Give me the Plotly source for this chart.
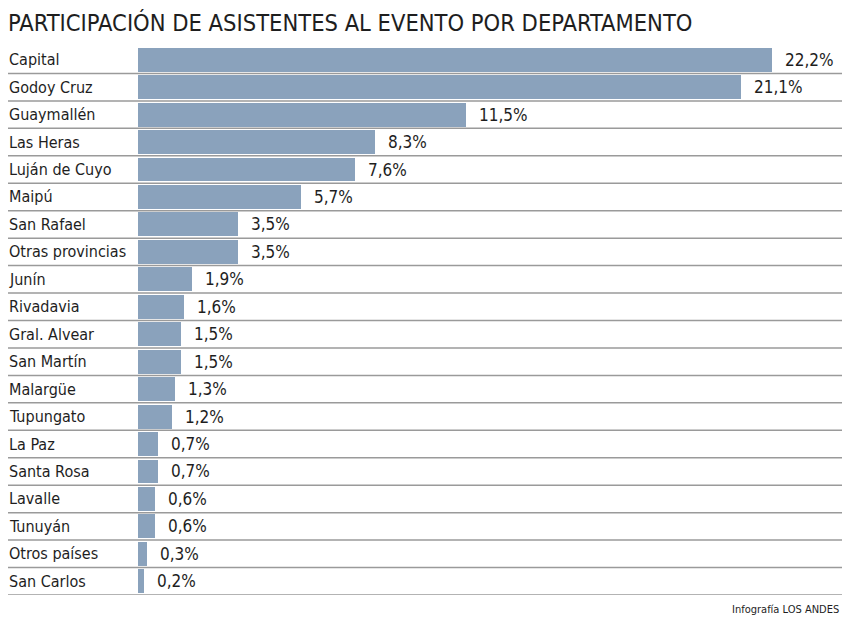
import plotly.graph_objects as go

categories = ["Capital", "Godoy Cruz", "Guaymallén", "Las Heras", "Luján de Cuyo", "Maipú",
              "San Rafael", "Otras provincias", "Junín", "Rivadavia", "Gral. Alvear", "San Martín",
              "Malargüe", "Tupungato", "La Paz", "Santa Rosa", "Lavalle", "Tunuyán",
              "Otros países", "San Carlos"]
values = [22.2, 21.1, 11.5, 8.3, 7.6, 5.7, 3.5, 3.5, 1.9, 1.6, 1.5, 1.5, 1.3, 1.2,
          0.7, 0.7, 0.6, 0.6, 0.3, 0.2]
title_text = "PARTICIPACIÓN DE ASISTENTES AL EVENTO POR DEPARTAMENTO"
source_text = "Infografía LOS ANDES"

FONT = "Liberation Sans Narrow, DejaVu Sans Condensed, Arial Narrow, sans-serif"
BAR = "#8aa2bc"
TXT = "#1e1e1e"

# the page body has an 8px margin, so the figure is drawn 8px in from the top-left
W, H = 834, 610
x0px = 130
pxper = 28.56
xmax = (W - x0px) / pxper

n = len(categories)
ypos = list(range(n))

fig = go.Figure()
fig.add_trace(go.Bar(
    x=values, y=ypos, orientation="h", marker=dict(color=BAR, line=dict(width=0)),
    width=0.87, hoverinfo="skip", showlegend=False,
))

annotations = []
for i, (c, v) in enumerate(zip(categories, values)):
    annotations.append(dict(x=0, xref="paper", y=i, yref="y", text=c, showarrow=False,
                            xanchor="left", yanchor="middle", xshift=-1,
                            font=dict(family=FONT, size=16, color=TXT)))
    annotations.append(dict(x=v, xref="x", y=i, yref="y",
                            text=f"{v:.1f}".replace(".", ",") + "%", showarrow=False,
                            xanchor="left", yanchor="middle", xshift=11,
                            font=dict(family=FONT, size=17, color=TXT)))
annotations.append(dict(x=0, xref="paper", y=1, yref="paper", text=title_text, showarrow=False,
                        xanchor="left", yanchor="middle", xshift=-2, yshift=23,
                        font=dict(family=FONT, size=23.5, color=TXT)))
annotations.append(dict(x=1, xref="paper", y=0, yref="paper", text=source_text, showarrow=False,
                        xanchor="right", yanchor="middle", xshift=-1, yshift=-14,
                        font=dict(family=FONT, size=11, color=TXT)))

shapes = []
for i in range(n):
    shapes.append(dict(type="line", xref="paper", x0=0, x1=1, yref="y", y0=i + 0.5, y1=i + 0.5,
                       line=dict(color="#9a9a9a", width=1.5), layer="below"))

fig.update_layout(
    width=W, height=H,
    margin=dict(l=0, r=0, t=38, b=23),
    paper_bgcolor="white", plot_bgcolor="white",
    xaxis=dict(domain=[x0px / W, 1], range=[0, xmax], visible=False, fixedrange=True),
    yaxis=dict(range=[n - 0.5, -0.5], visible=False, fixedrange=True),
    annotations=annotations, shapes=shapes, bargap=0,
)

fig.write_html("out.html")
